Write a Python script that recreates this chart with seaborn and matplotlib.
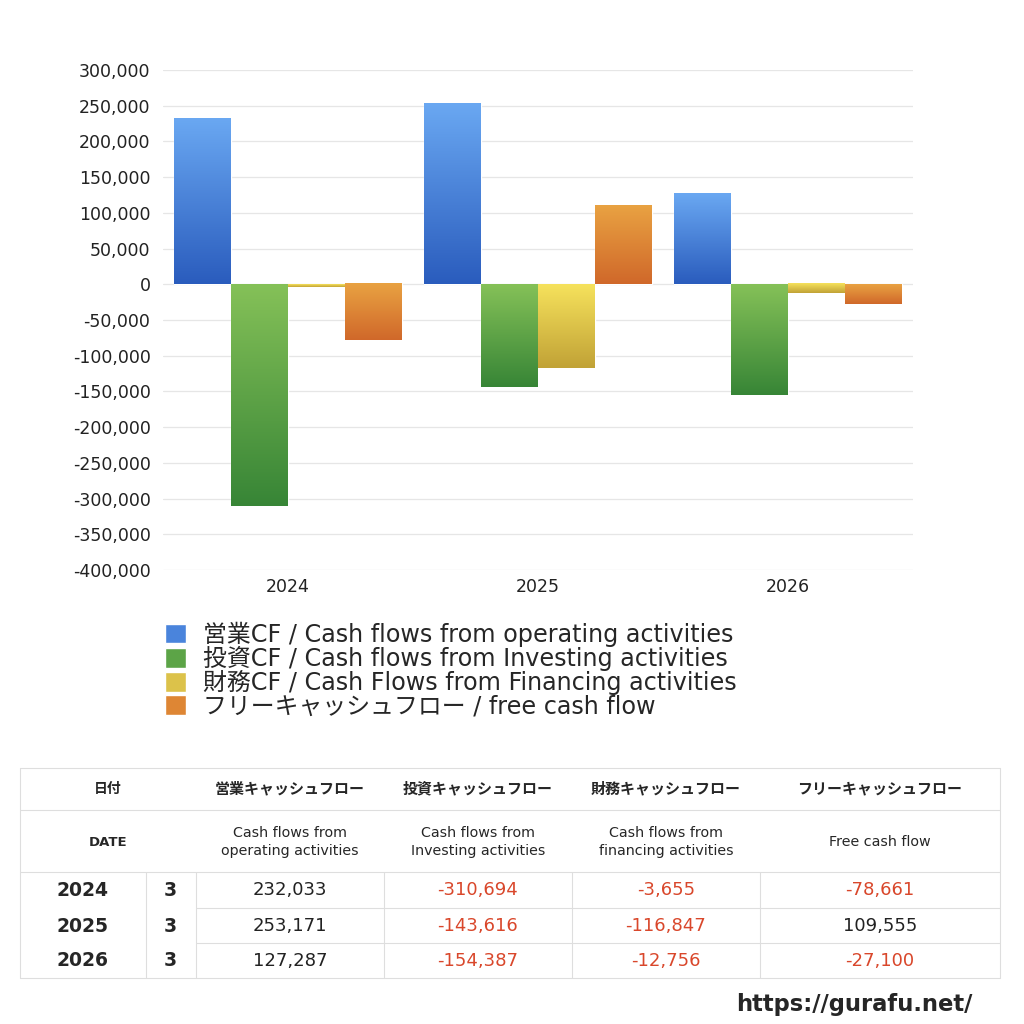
import numpy as np
import pandas as pd
import seaborn as sns
import matplotlib.pyplot as plt
from matplotlib.colors import LinearSegmentedColormap
from matplotlib.lines import Line2D
from matplotlib.patches import Patch
from matplotlib.ticker import FuncFormatter, MultipleLocator

# data
years = ['2024', '2025', '2026']
months = ['3', '3', '3']
operating = [232033, 253171, 127287]
investing = [-310694, -143616, -154387]
financing = [-3655, -116847, -12756]
free_cf = [-78661, 109555, -27100]

series_names = ['営業CF / Cash flows from operating activities',
                '投資CF / Cash flows from Investing activities',
                '財務CF / Cash Flows from Financing activities',
                'フリーキャッシュフロー / free cash flow']
head_jp = ['営業キャッシュフロー', '投資キャッシュフロー', '財務キャッシュフロー', 'フリーキャッシュフロー']
head_en = ['Cash flows from\noperating activities', 'Cash flows from\nInvesting activities',
           'Cash flows from\nfinancing activities', 'Free cash flow']

# light top -> dark bottom for each series
grad = [('#6aa8f2', '#2a5cbd'), ('#85c158', '#378536'),
        ('#f6e25c', '#c1a236'), ('#e9a242', '#d0682a')]
solid = ['#4a84dc', '#5ca447', '#dcc24a', '#de8634']

sns.set_style('white')
plt.rcParams['font.family'] = ['DejaVu Sans', 'Noto Sans CJK JP']

df = pd.DataFrame({'year': years * 4,
                   'series': sum([[s] * 3 for s in series_names], []),
                   'value': operating + investing + financing + free_cf})

fig = plt.figure(figsize=(10.24, 10.24), dpi=100)
ax = fig.add_axes([163 / 1024, 1 - 570 / 1024, 750 / 1024, 500 / 1024])

sns.barplot(data=df, x='year', y='value', hue='series', palette=solid,
            width=0.91, ax=ax, legend=False, zorder=2)

# gradient fill for every bar
for cont, (c_top, c_bot) in zip(ax.containers, grad):
    cmap = LinearSegmentedColormap.from_list('g', [c_top, c_bot])
    for bar in cont:
        x0, w = bar.get_x(), bar.get_width()
        y0, h = bar.get_y(), bar.get_height()
        lo, hi = min(y0, y0 + h), max(y0, y0 + h)
        ax.imshow(np.linspace(0, 1, 256).reshape(-1, 1), cmap=cmap, origin='upper',
                  extent=[x0, x0 + w, lo, hi], aspect='auto', zorder=3)
        bar.set_facecolor('none')

ax.set_xlim(-0.5, 2.5)
ax.set_ylim(-400000, 300000)
ax.yaxis.set_major_locator(MultipleLocator(50000))
ax.yaxis.set_major_formatter(FuncFormatter(lambda v, p: f'{int(v):,}'))
ax.grid(axis='y', color='#e6e6e6', linewidth=0.9, zorder=0)
ax.set_axisbelow(True)
for s in ax.spines.values():
    s.set_visible(False)
ax.set_xlabel('')
ax.set_ylabel('')
ax.tick_params(axis='y', labelsize=12.5, pad=5.5, colors='#222222')
ax.tick_params(axis='x', labelsize=12.5, pad=2.5, colors='#222222')

handles = [Patch(facecolor=c) for c in solid]
fig.legend(handles, series_names, loc='upper left', bbox_to_anchor=(155 / 1024, 1 - 612 / 1024),
           frameon=False, fontsize=17.2, handlelength=0.9, handleheight=0.9,
           labelspacing=-0.04, handletextpad=0.7, borderaxespad=0)

# table
def fx(px):
    return px / 1024

def fy(py):
    return 1 - py / 1024

lc = '#dedede'

def hline(x0, x1, y):
    fig.add_artist(Line2D([fx(x0), fx(x1)], [fy(y), fy(y)], color=lc, lw=0.8))

def vline(x, y0, y1):
    fig.add_artist(Line2D([fx(x), fx(x)], [fy(y0), fy(y1)], color=lc, lw=0.8))

hline(20, 1000, 768)
hline(20, 1000, 810)
hline(20, 1000, 872)
hline(196, 1000, 908)
hline(196, 1000, 943)
hline(20, 1000, 978)
vline(20, 768, 978)
vline(1000, 768, 978)
for xv in [146, 196, 384, 572, 760]:
    vline(xv, 872, 978)

col_x = [290, 478, 666, 880]
fig.text(fx(108), fy(789), '日付', ha='center', va='center', fontsize=10, fontweight='bold')
fig.text(fx(108), fy(842), 'DATE', ha='center', va='center', fontsize=9.5, fontweight='bold')
for cx, j, e in zip(col_x, head_jp, head_en):
    fig.text(fx(cx), fy(789), j, ha='center', va='center', fontsize=10.8, fontweight='bold')
    fig.text(fx(cx), fy(842), e, ha='center', va='center', fontsize=10.3, linespacing=1.4)

row_y = [890, 926, 961]
cols = [operating, investing, financing, free_cf]
for i, ry in enumerate(row_y):
    fig.text(fx(83), fy(ry), years[i], ha='center', va='center', fontsize=13.5, fontweight='bold')
    fig.text(fx(170), fy(ry), months[i], ha='center', va='center', fontsize=13.5, fontweight='bold')
    for cx, vals in zip(col_x, cols):
        v = vals[i]
        fig.text(fx(cx), fy(ry), f'{v:,}', ha='center', va='center', fontsize=13,
                 color='#d9472b' if v < 0 else '#222222')

fig.text(fx(972), fy(1004), 'https://gurafu.net/', ha='right', va='center',
         fontsize=16.3, fontweight='bold')

fig.savefig('out.png', dpi=100, facecolor='white')
